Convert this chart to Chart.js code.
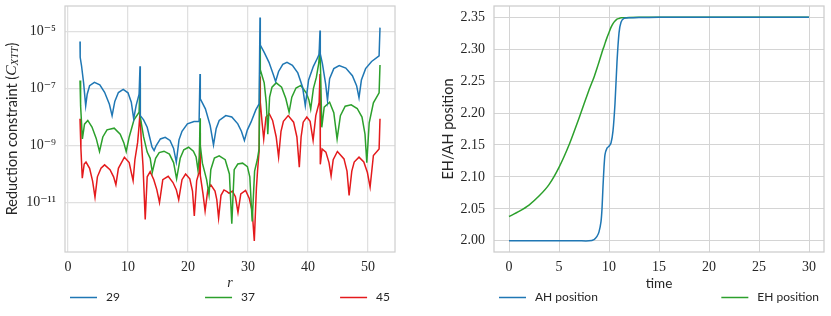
<!DOCTYPE html>
<html>
<head>
<meta charset="utf-8">
<script src="https://cdn.jsdelivr.net/npm/chart.js@4/dist/chart.umd.min.js"></script>
<style>
  html, body { margin: 0; padding: 0; background: #ffffff; }
  #wrap { position: relative; width: 831px; height: 316px; overflow: hidden; background: #fff; }
  #left { position: absolute; left: 0; top: 0; }
  #right { position: absolute; left: 420px; top: 0; }
</style>
</head>
<body>
<div id="wrap">
  <canvas id="left" width="420" height="316"></canvas>
  <canvas id="right" width="411" height="316"></canvas>
</div>
<script>
// ---------------- data: left panel (r, log10 of constraint) ----------------
const seriesLabels = ['29', '37', '45'];
const seriesColors = ['#1f77b4', '#2ca02c', '#e41a1c'];

const constraint29 = [
  [2.0,-5.35],[2.03,-5.9],[2.25,-6.19],[2.6,-6.8],[2.95,-7.6],[3.2,-7.2],[3.6,-6.9],[4.4,-6.78],[5.3,-6.87],[6.1,-7.13],[6.9,-7.55],[7.35,-7.95],[7.8,-7.45],[8.4,-7.14],[9.2,-7.03],[10.0,-7.15],[10.55,-7.48],[10.95,-8.06],[11.35,-7.6],[11.85,-7.2],[12.0,-6.22],
  [12.05,-7.95],[12.6,-8.1],[13.2,-8.36],[13.6,-8.7],[14.0,-9.05],[14.35,-9.18],[14.7,-9.0],[15.4,-8.77],[16.2,-8.71],[17.0,-8.82],[17.6,-9.1],[18.05,-9.58],[18.5,-8.8],[19.0,-8.5],[19.9,-8.24],[21.0,-8.16],[21.85,-8.16],[22.0,-6.49],
  [22.05,-7.36],[22.9,-7.71],[23.7,-8.3],[24.25,-8.98],[24.7,-8.4],[25.2,-8.12],[26.3,-7.95],[27.3,-8.0],[28.3,-8.24],[28.9,-8.5],[29.4,-8.82],[29.9,-8.45],[30.5,-8.18],[31.3,-7.75],[31.85,-7.54],[32.0,-4.5],
  [32.05,-5.47],[32.7,-5.73],[33.5,-6.08],[34.2,-6.5],[34.6,-6.75],[35.1,-6.4],[35.8,-6.15],[36.5,-6.08],[37.4,-6.18],[38.3,-6.45],[39.1,-6.95],[39.55,-7.6],[40.1,-6.7],[40.9,-6.22],[41.5,-5.96],[41.85,-5.8],[42.0,-4.96],
  [42.05,-5.78],[42.4,-6.12],[42.95,-6.85],[43.25,-7.42],[43.6,-6.65],[44.3,-6.3],[45.2,-6.19],[46.3,-6.28],[47.4,-6.55],[48.1,-6.9],[48.5,-7.32],[48.9,-6.7],[49.6,-6.3],[50.6,-6.05],[51.85,-5.85],[52.0,-4.86]
];
const constraint37 = [
  [2.0,-6.72],[2.1,-7.6],[2.4,-8.77],[2.75,-8.25],[3.3,-8.12],[4.0,-8.35],[4.7,-8.75],[5.25,-9.21],[5.8,-8.7],[6.5,-8.45],[7.7,-8.39],[8.7,-8.6],[9.3,-8.9],[9.7,-9.21],[10.2,-8.7],[11.0,-8.1],[11.85,-7.83],[12.0,-6.8],
  [12.05,-8.0],[12.6,-8.7],[13.2,-9.23],[13.7,-9.45],[14.05,-9.94],[14.6,-9.45],[15.2,-9.25],[16.0,-9.2],[16.9,-9.3],[17.6,-9.6],[18.1,-10.17],[18.7,-9.45],[19.3,-9.15],[20.1,-9.06],[20.9,-9.2],[21.35,-9.4],[21.65,-9.85],[21.9,-9.4],[22.0,-8.04],
  [22.05,-9.0],[22.4,-9.62],[23.1,-10.2],[23.5,-10.73],[23.8,-9.85],[24.4,-9.44],[25.2,-9.36],[26.2,-9.5],[26.9,-10.0],[27.3,-11.75],[27.7,-9.85],[28.3,-9.65],[29.1,-9.62],[29.9,-9.74],[30.3,-10.1],[30.7,-11.67],[31.1,-9.9],[31.55,-9.5],[31.85,-9.12],[32.0,-5.35],
  [32.05,-6.34],[32.7,-6.8],[33.05,-7.5],[33.3,-8.6],[33.6,-7.3],[34.0,-6.95],[34.7,-6.8],[35.6,-6.95],[36.3,-7.35],[36.85,-7.83],[37.3,-7.3],[38.0,-6.98],[38.8,-6.89],[39.7,-7.15],[40.15,-7.4],[40.45,-7.72],[40.9,-7.0],[41.4,-6.6],[41.8,-6.1],[42.0,-5.47],
  [42.3,-8.36],[42.7,-7.65],[43.6,-7.48],[44.3,-7.85],[44.85,-8.77],[45.4,-7.95],[46.2,-7.62],[47.2,-7.57],[48.2,-7.7],[49.0,-8.0],[49.5,-8.6],[49.8,-9.6],[50.2,-8.2],[50.9,-7.5],[51.85,-7.15],[52.0,-6.17]
];
const constraint45 = [
  [2.0,-8.06],[2.15,-9.1],[2.38,-10.15],[2.7,-9.65],[3.0,-9.58],[3.6,-9.8],[4.1,-10.25],[4.5,-10.81],[4.9,-10.1],[5.5,-9.8],[6.1,-9.68],[7.0,-9.85],[7.6,-10.1],[7.98,-10.38],[8.4,-9.8],[9.4,-9.41],[10.2,-9.6],[10.55,-9.95],[10.85,-10.23],[11.15,-9.5],[11.6,-8.9],[11.85,-8.3],[12.0,-7.83],
  [12.2,-8.77],[12.5,-9.7],[12.87,-11.6],[13.2,-10.1],[13.7,-9.92],[14.3,-10.2],[14.8,-10.55],[15.25,-11.0],[15.8,-10.2],[16.7,-10.08],[17.5,-10.3],[18.05,-10.55],[18.45,-10.9],[19.0,-10.2],[19.6,-10.0],[20.3,-10.17],[20.75,-10.6],[21.05,-11.47],[21.45,-10.23],[21.85,-9.94],[22.0,-8.55],
  [22.05,-10.05],[22.5,-10.7],[22.85,-11.3],[23.3,-10.55],[23.8,-10.38],[24.5,-10.6],[24.8,-10.9],[25.1,-11.55],[25.5,-10.75],[26.0,-10.56],[26.5,-10.62],[26.85,-10.68],[27.4,-10.6],[27.9,-10.8],[28.33,-11.35],[28.8,-10.7],[29.6,-10.58],[30.2,-10.85],[30.7,-11.3],[31.05,-12.35],[31.4,-10.5],[31.6,-9.86],[31.85,-9.2],[32.0,-6.58],
  [32.05,-7.48],[32.35,-8.2],[32.62,-8.77],[33.0,-8.0],[33.56,-7.89],[34.1,-8.12],[34.7,-8.7],[35.1,-9.41],[35.5,-8.5],[35.9,-8.15],[36.7,-7.95],[37.6,-8.18],[38.15,-8.7],[38.55,-9.76],[38.85,-8.7],[39.2,-8.18],[39.8,-8.0],[40.35,-8.15],[40.85,-8.82],[41.3,-7.95],[41.85,-7.5],[42.0,-6.49],
  [42.05,-9.66],[42.35,-9.12],[42.98,-9.23],[43.5,-9.6],[43.85,-10.07],[44.2,-9.5],[44.9,-9.21],[46.0,-9.47],[46.5,-9.9],[46.85,-10.75],[47.3,-9.9],[47.7,-9.58],[48.5,-9.41],[49.3,-9.58],[49.9,-9.95],[50.35,-10.46],[50.9,-9.35],[51.85,-9.12],[52.0,-8.06]
];
const rTicks = [0, 10, 20, 30, 40, 50];
const constraintTickValues = [1e-5, 1e-7, 1e-9, 1e-11];
const constraintTickLabels = ['10\u207B\u2075', '10\u207B\u2077', '10\u207B\u2079', '10\u207B\u00B9\u00B9'];

// ---------------- data: right panel ----------------
const time = [0,1,2,3,4,5,6,7,8,8.5,8.8,9,9.2,9.3,9.4,9.5,9.6,9.8,10,10.2,10.4,10.6,10.8,11,11.2,11.5,12,13,15,20,25,30];
const ahPosition = [2.000,2.000,2.000,2.000,2.000,2.000,2.000,2.000,2.000,2.002,2.007,2.014,2.030,2.050,2.085,2.115,2.135,2.145,2.148,2.153,2.172,2.215,2.280,2.325,2.342,2.348,2.349,2.3495,2.3497,2.3499,2.3499,2.350];
const ehPosition = [2.038,2.046,2.056,2.070,2.088,2.115,2.150,2.192,2.236,2.256,2.270,2.280,2.290,2.295,2.300,2.304,2.309,2.318,2.326,2.334,2.340,2.344,2.347,2.348,2.349,2.349,2.3495,2.3497,2.3498,2.3499,2.3499,2.350];
const timeTicks = [0, 5, 10, 15, 20, 25, 30];
const positionTicks = [2.00, 2.05, 2.10, 2.15, 2.20, 2.25, 2.30, 2.35];
const positionLabels = ['AH position', 'EH position'];
const positionColors = ['#1f77b4', '#2ca02c'];

// ---------------- shared styling ----------------
const TEXT = '#262626';
const SERIF = '"Liberation Serif", "DejaVu Serif", serif';
const SANS = 'Lato, "DejaVu Sans", sans-serif';

const frameLegendPlugin = {
  id: 'frameLegend',
  afterDraw(chart, args, o) {
    const { ctx, chartArea: a } = chart;
    ctx.save();
    ctx.strokeStyle = o.frameColor;
    ctx.lineWidth = o.frameWidth;
    ctx.strokeRect(a.left, a.top, a.right - a.left, a.bottom - a.top);
    ctx.font = o.font;
    const items = chart.data.datasets.map(ds => ({
      label: ds.label, color: ds.borderColor,
      w: o.handle + o.gap + ctx.measureText(ds.label).width
    }));
    const x0 = a.left + o.inset, x1 = a.right - o.inset;
    const total = items.reduce((s, it) => s + it.w, 0);
    const sp = items.length > 1 ? (x1 - x0 - total) / (items.length - 1) : 0;
    let x = x0;
    items.forEach(it => {
      ctx.strokeStyle = it.color;
      ctx.lineWidth = 1.5;
      ctx.beginPath();
      ctx.moveTo(x, o.y); ctx.lineTo(x + o.handle, o.y);
      ctx.stroke();
      ctx.fillStyle = TEXT;
      ctx.textBaseline = 'middle';
      ctx.textAlign = 'left';
      ctx.fillText(it.label, x + o.handle + o.gap, o.y);
      x += it.w + sp;
    });
    ctx.restore();
  }
};

const leftYTitlePlugin = {
  id: 'leftYTitle',
  afterDraw(chart, args, o) {
    const { ctx, chartArea: a } = chart;
    const parts = [
      { t: 'Reduction constraint (', f: '14.5px ' + SANS, dy: 0 },
      { t: 'C', f: 'italic 15.5px ' + SERIF, dy: 0 },
      { t: 'XTT', f: 'italic 11px ' + SERIF, dy: 3.5 },
      { t: ')', f: '14.5px ' + SANS, dy: 0 }
    ];
    ctx.save();
    let total = 0;
    parts.forEach(p => { ctx.font = p.f; p.w = ctx.measureText(p.t).width; total += p.w; });
    ctx.translate(o.x, (a.top + a.bottom) / 2);
    ctx.rotate(-Math.PI / 2);
    ctx.fillStyle = TEXT;
    ctx.textBaseline = 'middle';
    ctx.textAlign = 'left';
    let x = -total / 2;
    parts.forEach(p => { ctx.font = p.f; ctx.fillText(p.t, x, p.dy); x += p.w; });
    ctx.restore();
  }
};

function toPoints(pairs) {
  return pairs.map(p => ({ x: p[0], y: Math.pow(10, p[1]) }));
}

// ---------------- left chart ----------------
const leftSeries = [constraint29, constraint37, constraint45];
new Chart(document.getElementById('left'), {
  type: 'line',
  data: {
    datasets: leftSeries.map((s, i) => ({
      label: seriesLabels[i],
      data: toPoints(s),
      borderColor: seriesColors[i],
      backgroundColor: seriesColors[i],
      borderWidth: 1.5,
      pointRadius: 0,
      tension: 0,
      fill: false
    }))
  },
  options: {
    responsive: false,
    animation: false,
    layout: { padding: { top: 6, right: 25, left: 0, bottom: 0 } },
    plugins: {
      legend: { display: false },
      tooltip: { enabled: false },
      frameLegend: { frameColor: '#d0d0d0', frameWidth: 1.25, font: '12px ' + SANS, handle: 27, gap: 9, inset: 5, y: 297.5 },
      leftYTitle: { x: 12 }
    },
    scales: {
      x: {
        type: 'linear', min: -0.5, max: 54.5,
        afterBuildTicks: s => { s.ticks = rTicks.map(v => ({ value: v })); },
        afterFit: s => { s.height = 64; s.paddingLeft = 0; s.paddingRight = 0; },
        ticks: { font: { family: SERIF, size: 14 }, color: TEXT, padding: 7, maxRotation: 0, autoSkip: false },
        grid: { color: '#e0e0e0', lineWidth: 1.25, drawTicks: false },
        border: { display: false },
        title: { display: true, text: 'r', color: TEXT, font: { family: SERIF, size: 14, style: 'italic' }, padding: { top: 0, bottom: 24 } }
      },
      y: {
        type: 'logarithmic', min: Math.pow(10, -12.74), max: Math.pow(10, -4.1),
        afterBuildTicks: s => { s.ticks = constraintTickValues.map(v => ({ value: v })); },
        afterFit: s => { s.width = 65; s.paddingTop = 0; s.paddingBottom = 0; },
        ticks: { font: { family: SERIF, size: 14 }, color: TEXT, padding: 9, autoSkip: false,
                 callback: (v, i) => constraintTickLabels[i] },
        grid: { color: '#e0e0e0', lineWidth: 1.25, drawTicks: false },
        border: { display: false }
      }
    }
  },
  plugins: [frameLegendPlugin, leftYTitlePlugin]
});

// ---------------- right chart ----------------
const rightSeries = [ahPosition, ehPosition];
new Chart(document.getElementById('right'), {
  type: 'line',
  data: {
    datasets: rightSeries.map((s, i) => ({
      label: positionLabels[i],
      data: time.map((t, k) => ({ x: t, y: s[k] })),
      borderColor: positionColors[i],
      backgroundColor: positionColors[i],
      borderWidth: 1.5,
      pointRadius: 0,
      tension: 0.2,
      fill: false
    }))
  },
  options: {
    responsive: false,
    animation: false,
    layout: { padding: { top: 6, right: 7, left: 0, bottom: 0 } },
    plugins: {
      legend: { display: false },
      tooltip: { enabled: false },
      frameLegend: { frameColor: '#cccccc', frameWidth: 1.25, font: '12px ' + SANS, handle: 27, gap: 9, inset: 5, y: 297.5 }
    },
    scales: {
      x: {
        type: 'linear', min: -1.5, max: 31.5,
        afterBuildTicks: s => { s.ticks = timeTicks.map(v => ({ value: v })); },
        afterFit: s => { s.height = 64; s.paddingLeft = 0; s.paddingRight = 0; },
        ticks: { font: { family: SERIF, size: 14 }, color: TEXT, padding: 7, maxRotation: 0, autoSkip: false },
        grid: { color: '#d4d4d4', lineWidth: 1, drawTicks: false },
        border: { display: false },
        title: { display: true, text: 'time', color: TEXT, font: { family: SANS, size: 13.5 }, padding: { top: 0, bottom: 24.5 } }
      },
      y: {
        type: 'linear', min: 1.9825, max: 2.3675,
        afterBuildTicks: s => { s.ticks = positionTicks.map(v => ({ value: v })); },
        afterFit: s => { s.width = 74; s.paddingTop = 0; s.paddingBottom = 0; },
        ticks: { font: { family: SERIF, size: 14 }, color: TEXT, padding: 9, autoSkip: false,
                 callback: v => Number(v).toFixed(2) },
        grid: { color: '#d4d4d4', lineWidth: 1, drawTicks: false },
        border: { display: false },
        title: { display: true, text: 'EH/AH position', color: TEXT, font: { family: SANS, size: 14.5 }, padding: { top: 20, bottom: 0 } }
      }
    }
  },
  plugins: [frameLegendPlugin]
});
</script>
</body>
</html>
